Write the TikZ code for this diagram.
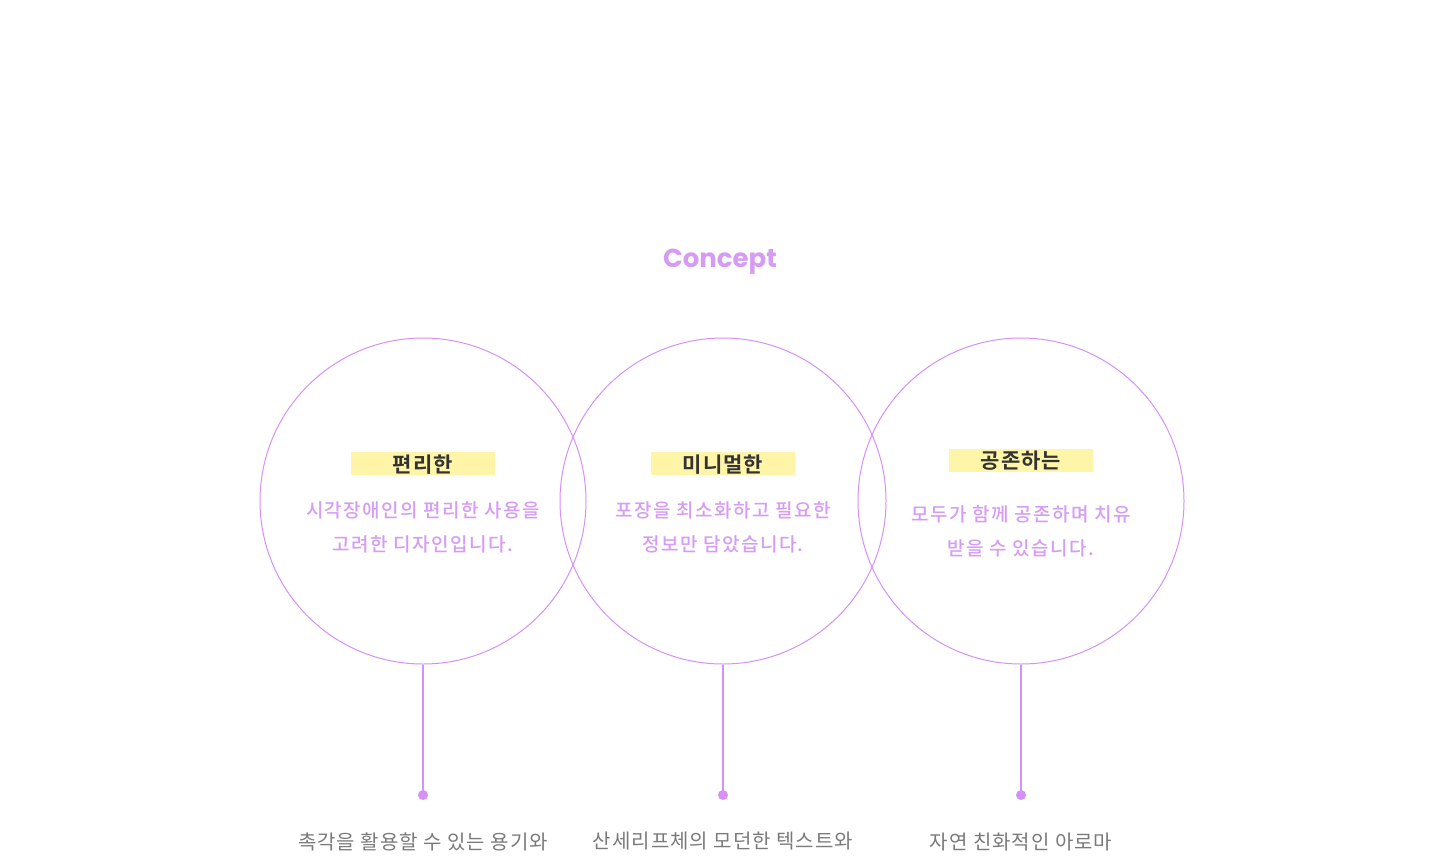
\documentclass[tikz,border=0pt]{standalone}
\usepackage{fontspec}
\setmainfont{Noto Sans CJK KR}
\newfontfamily\medfont{Noto Sans CJK KR}[UprightFont=* Medium,LetterSpace=7.5]
\newfontfamily\headfont{Noto Sans CJK KR}[UprightFont=* Bold,LetterSpace=5]
\newfontfamily\lightfont{Noto Sans CJK KR}[LetterSpace=5]
\newfontfamily\titlefont{Poppins}
\definecolor{lav}{HTML}{D591F7}
\definecolor{lavtext}{HTML}{D69CF4}
\definecolor{hl}{HTML}{FFF5A8}
\definecolor{darktxt}{HTML}{333333}
\definecolor{graytxt}{HTML}{7A7A7A}
\begin{document}
\begin{tikzpicture}[x=1pt,y=-1pt,
  ring/.style={draw=lav,line width=1pt},
  stem/.style={draw=lav,line width=1.6pt},
  dotc/.style={circle,fill=lav,inner sep=0pt,minimum size=10pt},
  hlbox/.style={fill=hl,inner sep=0pt,minimum width=144pt,minimum height=23pt},
  headtxt/.style={text=darktxt,font=\headfont\fontsize{21}{24}\selectfont,inner sep=0pt},
  bodytxt/.style={text=lavtext,font=\medfont\fontsize{19}{34}\selectfont,align=center,inner sep=0pt},
  bottomtxt/.style={text=graytxt,font=\lightfont\fontsize{20}{24}\selectfont,inner sep=0pt},
  titletxt/.style={text=lavtext,font=\titlefont\fontsize{26}{30}\selectfont\bfseries,inner sep=0pt}]
\useasboundingbox (0,0) rectangle (1440,860);
\fill[white] (0,0) rectangle (1440,860);
\node[titletxt] (title) at (720,262) {Concept};
% circles
\node[ring,circle,minimum size=326pt,inner sep=0pt] (c1) at (423,501) {};
\node[ring,circle,minimum size=326pt,inner sep=0pt] (c2) at (723,501) {};
\node[ring,circle,minimum size=326pt,inner sep=0pt] (c3) at (1021,501) {};
% highlights
\node[hlbox] (h1) at (423,463.5) {};
\node[hlbox] (h2) at (723,463.5) {};
\node[hlbox] (h3) at (1021,460.5) {};
\node[headtxt] (t1) at (423,464.5) {편리한};
\node[headtxt] (t2) at (723,464.5) {미니멀한};
\node[headtxt] (t3) at (1021,460.5) {공존하는};
% body
\node[bodytxt] (b1) at (423,527.5) {시각장애인의 편리한 사용을\\고려한 디자인입니다.};
\node[bodytxt] (b2) at (723,527.5) {포장을 최소화하고 필요한\\정보만 담았습니다.};
\node[bodytxt] (b3) at (1021,531.5) {모두가 함께 공존하며 치유\\받을 수 있습니다.};
% stems
\node[dotc] (d1) at (423,795) {};
\node[dotc] (d2) at (723,795) {};
\node[dotc] (d3) at (1021,795) {};
\draw[stem] (c1.south) -- (d1.center);
\draw[stem] (c2.south) -- (d2.center);
\draw[stem] (c3.south) -- (d3.center);
% bottom texts
\node[bottomtxt] (l1) at (423,841.5) {촉각을 활용할 수 있는 용기와};
\node[bottomtxt] (l2) at (723,841.5) {산세리프체의 모던한 텍스트와};
\node[bottomtxt] (l3) at (1021,841.5) {자연 친화적인 아로마};
\end{tikzpicture}
\end{document}
